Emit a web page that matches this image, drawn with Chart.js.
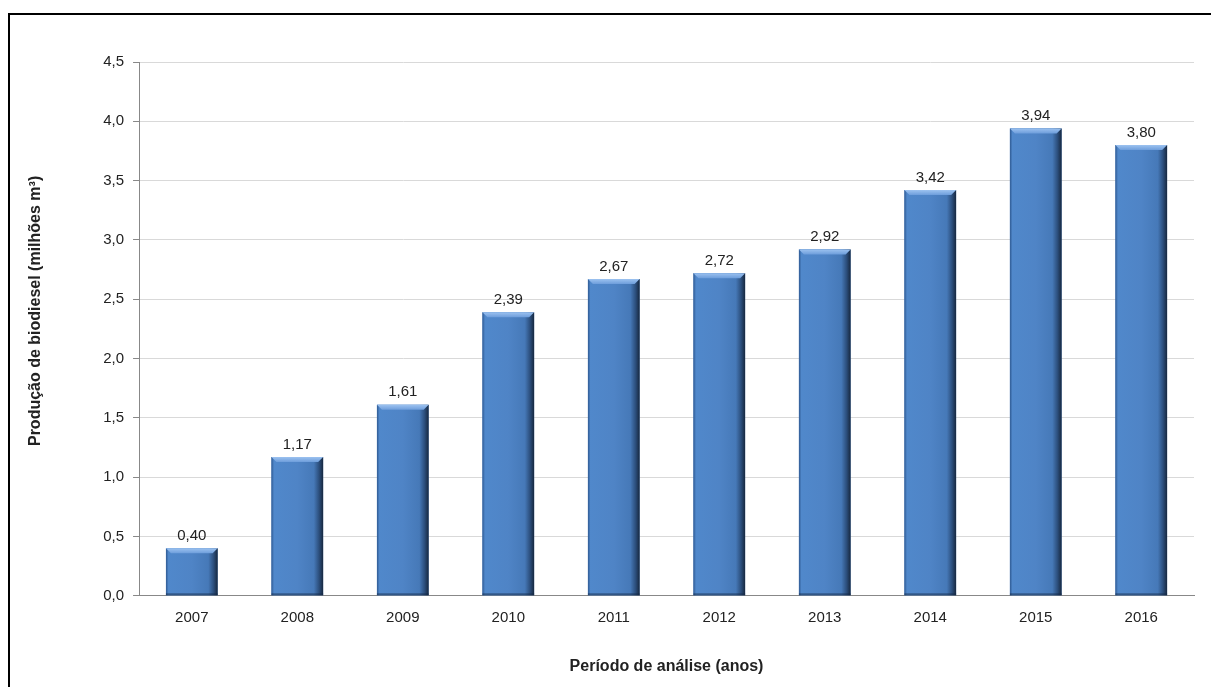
<!DOCTYPE html>
<html>
<head>
<meta charset="utf-8">
<script src="https://cdn.jsdelivr.net/npm/chart.js@4"></script>
<style>
  body { margin: 0; background: #fff; }
  #wrap { position: relative; width: 1211px; height: 687px; overflow: hidden; }
  #frame { position: absolute; left: 8px; top: 13px; width: 1220px; height: 700px; border: 2px solid #000; box-sizing: border-box; }
  canvas { position: absolute; left: 0; top: 0; }
</style>
</head>
<body>
<div id="wrap">
  <div id="frame"></div>
  <canvas id="grafico" width="1211" height="687"></canvas>
</div>
<script>
var anos = ['2007', '2008', '2009', '2010', '2011', '2012', '2013', '2014', '2015', '2016'];
var producao = [0.40, 1.17, 1.61, 2.39, 2.67, 2.72, 2.92, 3.42, 3.94, 3.80];
var ticksY = [0, 0.5, 1.0, 1.5, 2.0, 2.5, 3.0, 3.5, 4.0, 4.5];
var tituloY = 'Produção de biodiesel (milhões m³)';
var tituloX = 'Período de análise (anos)';

function virgula(v, casas) {
	return v.toFixed(casas).replace('.', ',');
}

// sombreado das barras (efeito bisel)
var bisel = {
	id: 'bisel',
	afterDatasetsDraw: function(chart) {
		var ctx = chart.ctx;
		var meta = chart.getDatasetMeta(0);
		meta.data.forEach(function(bar, i) {
			var l = bar.x - bar.width / 2, r = bar.x + bar.width / 2;
			var t = bar.y, b = bar.base;
			var g = ctx.createLinearGradient(l, 0, r, 0);
			g.addColorStop(0, '#2f5a93');
			g.addColorStop(0.05, '#5088cb');
			g.addColorStop(0.5, '#4f84c6');
			g.addColorStop(0.82, '#4679b8');
			g.addColorStop(0.92, '#2c4f7d');
			g.addColorStop(1, '#17283f');
			ctx.save();
			ctx.fillStyle = g;
			ctx.fillRect(l, t, r - l, b - t);
			// realce no topo
			var h = 5;
			ctx.beginPath();
			ctx.moveTo(l, t);
			ctx.lineTo(r, t);
			ctx.lineTo(r - h, t + h);
			ctx.lineTo(l + h, t + h);
			ctx.closePath();
			var gt = ctx.createLinearGradient(0, t, 0, t + h);
			gt.addColorStop(0, '#9cc2f0');
			gt.addColorStop(1, '#6d9ddb');
			ctx.fillStyle = gt;
			ctx.fill();
			// borda inferior
			ctx.fillStyle = 'rgba(20,40,70,0.5)';
			ctx.fillRect(l, b - 2, r - l, 2);
			ctx.restore();
		});
	}
};

// valores em cima das barras + titulo do eixo Y (um pouco acima do centro, como no original)
var rotulos = {
	id: 'rotulos',
	afterDatasetsDraw: function(chart) {
		var ctx = chart.ctx;
		var meta = chart.getDatasetMeta(0);
		ctx.save();
		ctx.font = '15px "Liberation Sans", Arial, sans-serif';
		ctx.fillStyle = '#222';
		ctx.textAlign = 'center';
		ctx.textBaseline = 'bottom';
		meta.data.forEach(function(bar, i) {
			ctx.fillText(virgula(producao[i], 2), bar.x, bar.y - 5);
		});
		var y = chart.scales.y;
		ctx.font = 'bold 16px "Liberation Sans", Arial, sans-serif';
		ctx.textBaseline = 'middle';
		ctx.translate(y.left + 13, (y.top + y.bottom) / 2 - 18);
		ctx.rotate(-Math.PI / 2);
		ctx.fillText(tituloY, 0, 0);
		ctx.restore();
	}
};

Chart.defaults.font.family = '"Liberation Sans", Arial, sans-serif';
Chart.defaults.font.size = 15;
Chart.defaults.color = '#222';

var ctx = document.getElementById('grafico');
var grafico = new Chart(ctx, {
	type: 'bar',
	data: {
		labels: anos,
		datasets: [{
			label: 'Produção de biodiesel',
			data: producao,
			backgroundColor: '#4f84c6',
			barPercentage: 0.49,
			categoryPercentage: 1.0
		}]
	},
	options: {
		responsive: false,
		animation: false,
		layout: { padding: { left: 23, top: 62, right: 17, bottom: 7 } },
		plugins: {
			legend: { display: false },
			tooltip: { enabled: false }
		},
		scales: {
			x: {
				grid: { display: false, drawTicks: true },
				border: { color: '#888' },
				ticks: { padding: 5 },
				title: {
					display: true,
					text: tituloX,
					font: { weight: 'bold', size: 16 },
					padding: { top: 25 }
				}
			},
			y: {
				min: 0,
				max: 4.5,
				afterBuildTicks: function(axis) {
					axis.ticks = ticksY.map(function(v) { return { value: v }; });
				},
				grid: { color: '#d9d9d9', tickLength: 6, tickColor: '#888' },
				border: { color: '#888' },
				ticks: {
					padding: 9,
					callback: function(v) { return virgula(v, 1); }
				},
				title: {
					display: true,
					text: tituloY,
					color: 'rgba(0,0,0,0)',
					font: { weight: 'bold', size: 16 },
					padding: { bottom: 48 }
				}
			}
		}
	},
	plugins: [bisel, rotulos]
});
</script>
</body>
</html>
